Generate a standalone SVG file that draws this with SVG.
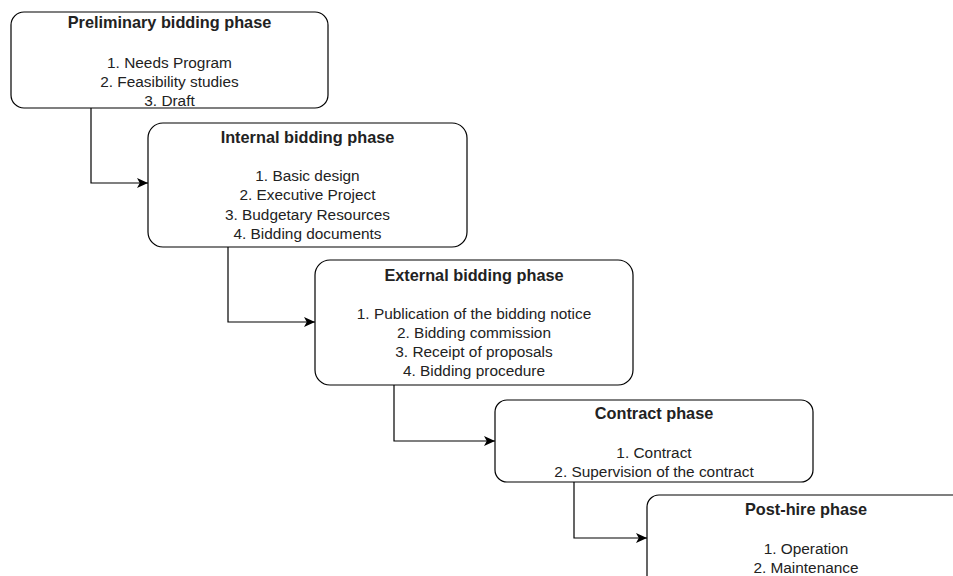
<svg xmlns="http://www.w3.org/2000/svg" width="953" height="576" viewBox="0 0 953 576">
<defs>
<marker id="arr" viewBox="0 0 10 10" refX="10" refY="5" markerWidth="11" markerHeight="11" markerUnits="userSpaceOnUse" orient="auto">
<path d="M0,0.5 L10,5 L0,9.5 L2.5,5 Z" fill="#000"/>
</marker>
<style>
.box{fill:#fff;stroke:#000;stroke-width:1.2}
.t{font-family:"Liberation Sans",Arial,sans-serif;font-size:15.4px;fill:#222;text-anchor:middle}
.b{font-weight:bold;font-size:16.3px}
.c{fill:none;stroke:#000;stroke-width:1.2}
</style>
</defs>
<rect width="953" height="576" fill="#fff"/>
<g id="connectors">
<path class="c" d="M91,108 V183 H148" marker-end="url(#arr)"/>
<path class="c" d="M228,247 V322 H315" marker-end="url(#arr)"/>
<path class="c" d="M394,385 V441 H495" marker-end="url(#arr)"/>
<path class="c" d="M574,482 V538 H647" marker-end="url(#arr)"/>
</g>
<g id="preliminary">
<rect class="box" x="11" y="12" width="317" height="96" rx="13"/>
<text class="t b" x="169.5" y="28">Preliminary bidding phase</text>
<text class="t" x="169.5" y="67.5">1. Needs Program</text>
<text class="t" x="169.5" y="86.5">2. Feasibility studies</text>
<text class="t" x="169.5" y="105.5">3. Draft</text>
</g>
<g id="internal">
<rect class="box" x="148" y="123" width="319" height="124" rx="15"/>
<text class="t b" x="307.5" y="143">Internal bidding phase</text>
<text class="t" x="307.5" y="180.5">1. Basic design</text>
<text class="t" x="307.5" y="200">2. Executive Project</text>
<text class="t" x="307.5" y="219.5">3. Budgetary Resources</text>
<text class="t" x="307.5" y="238.5">4. Bidding documents</text>
</g>
<g id="external">
<rect class="box" x="315" y="260" width="318" height="125" rx="15"/>
<text class="t b" x="474" y="281">External bidding phase</text>
<text class="t" x="474" y="318.5">1. Publication of the bidding notice</text>
<text class="t" x="474" y="337.5">2. Bidding commission</text>
<text class="t" x="474" y="357">3. Receipt of proposals</text>
<text class="t" x="474" y="375.5">4. Bidding procedure</text>
</g>
<g id="contract">
<rect class="box" x="495" y="400" width="318" height="82" rx="12"/>
<text class="t b" x="654" y="419">Contract phase</text>
<text class="t" x="654" y="457.5">1. Contract</text>
<text class="t" x="654" y="476.5">2. Supervision of the contract</text>
</g>
<g id="posthire">
<rect class="box" x="647" y="495" width="318" height="100" rx="12"/>
<text class="t b" x="806" y="515">Post-hire phase</text>
<text class="t" x="806" y="553.5">1. Operation</text>
<text class="t" x="806" y="573">2. Maintenance</text>
</g>
</svg>
